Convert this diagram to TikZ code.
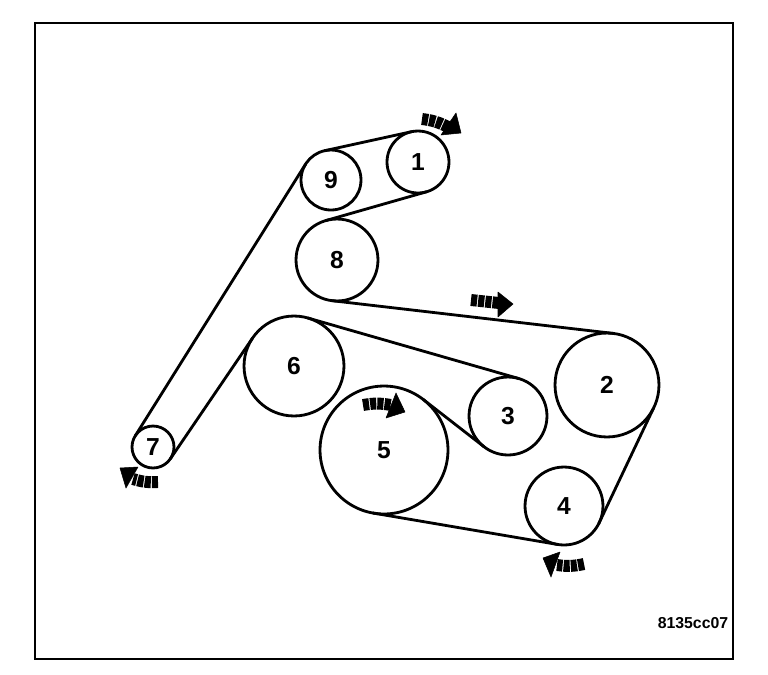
\documentclass[tikz,border=0pt]{standalone}
\usepackage{fontspec}
\setmainfont{Liberation Sans}

\tikzset{
  pulley/.style={circle,draw,line width=1.6pt,inner sep=0pt,outer sep=0pt,
    minimum size=#1*0.04cm,font=\bfseries\fontsize{14}{14}\selectfont},
  beltline/.style={line width=1.6pt,line cap=round},
  tail/.style={line width=6.8pt,dash pattern=on 3.5pt off 0.6pt},
  head/.style={fill=black,draw=black,line width=0.3pt,line join=round},
}

\begin{document}
\begin{tikzpicture}[x=0.02cm,y=-0.02cm]
  \useasboundingbox (0,0) rectangle (768,674);

  % Frame
  \draw[line width=1.2pt] (35,23) rectangle (733,659);

  % Pulleys
  \node[pulley=31] (p1) at (418,162) {1};
  \node[pulley=30] (p9) at (331,180) {9};
  \node[pulley=41] (p8) at (337,260) {8};
  \node[pulley=50] (p6) at (294,366) {6};
  \node[pulley=64] (p5) at (384,450) {5};
  \node[pulley=39] (p3) at (508,416) {3};
  \node[pulley=52] (p2) at (607,385) {2};
  \node[pulley=39] (p4) at (564,506) {4};
  \node[pulley=21] (p7) at (153,447) {7};

  % Belt
  \draw[beltline] (p9.102) -- (p1.102);
  \draw[beltline] (p1.-74) -- (p8.106);
  \draw[beltline] (p8.-97) -- (p2.83);
  \draw[beltline] (p2.-27) -- (p4.-27);
  \draw[beltline] (p4.-100) -- (p5.-100);
  \draw[beltline] (p5.52) -- (p3.232);
  \draw[beltline] (p3.74) -- (p6.74);
  \draw[beltline] (p6.146) -- (p7.-34);
  \draw[beltline] (p7.148) -- (p9.148);

  % Rotation arrows
  \coordinate (t1a) at (422,119);
  \coordinate (t1b) at (448,127);
  \draw[tail] (t1a) to[bend left=10] (t1b);
  \fill[head] (456,113) -- (461,133) -- (441,135) -- cycle;

  \coordinate (t2a) at (471,300);
  \coordinate (t2b) at (499,303);
  \draw[tail] (t2a) -- (t2b);
  \fill[head] (498,292) -- (513,304) -- (498,317) -- cycle;

  \coordinate (t3a) at (363,405);
  \coordinate (t3b) at (391,405);
  \draw[tail] (t3a) to[bend left=10] (t3b);
  \fill[head] (396,393) -- (405,412) -- (386,418) -- cycle;

  \coordinate (t4a) at (584,564);
  \coordinate (t4b) at (557,565);
  \draw[tail] (t4a) to[bend left=10] (t4b);
  \fill[head] (543,558) -- (560,552) -- (551,577) -- cycle;

  \coordinate (t5a) at (158,482);
  \coordinate (t5b) at (133,479);
  \draw[tail] (t5a) to[bend left=10] (t5b);
  \fill[head] (120,468) -- (138,467) -- (126,488) -- cycle;

  % Drawing number
  \node[font=\bfseries\fontsize{9}{9}\selectfont] (code) at (693,623) {8135cc07};
\end{tikzpicture}
\end{document}
